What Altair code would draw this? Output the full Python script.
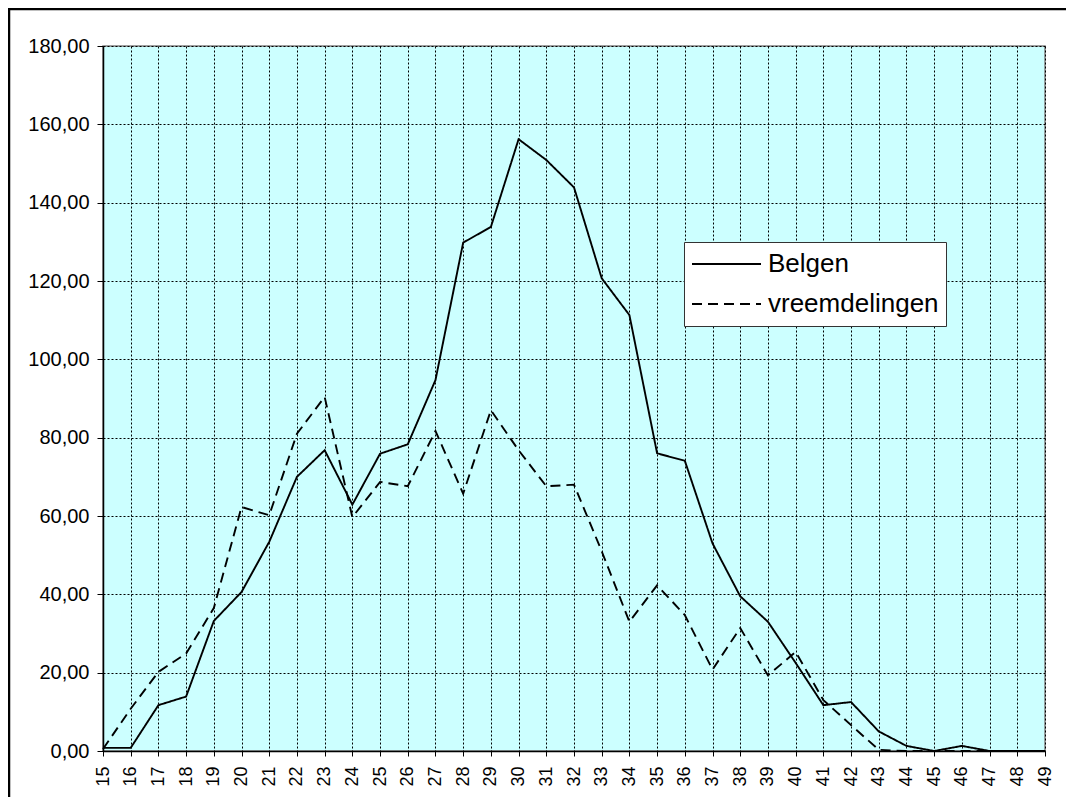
import altair as alt
import pandas as pd

ages = list(range(15, 50))
belgen = [0.8, 0.8, 11.7, 13.9, 33.2, 40.6, 53.4, 70.0, 76.8, 62.9, 75.9, 78.3,
          94.7, 129.8, 133.8, 156.2, 150.9, 143.9, 120.7, 111.3, 76.0, 74.1,
          53.0, 39.5, 33.0, 22.5, 11.7, 12.5, 5.0, 1.3, 0.0, 1.3, 0.0, 0.0, 0.0]
vreemdelingen = [0.5, 10.8, 20.2, 24.9, 36.5, 62.3, 60.2, 81.0, 90.4, 59.7, 68.7,
                 67.6, 81.7, 65.7, 87.0, 76.8, 67.6, 68.0, 51.0, 33.0, 42.3, 34.7,
                 20.8, 31.4, 19.3, 25.3, 13.0, 6.6, 0.3, 0.0, 0.0, 0.0, 0.0, 0.0, 0.0]
series_names = ["Belgen", "vreemdelingen"]
y_ticks = [0, 20, 40, 60, 80, 100, 120, 140, 160, 180]

rows = []
for a, b, v in zip(ages, belgen, vreemdelingen):
    rows.append({"leeftijd": a, "waarde": b, "groep": series_names[0]})
    rows.append({"leeftijd": a, "waarde": v, "groep": series_names[1]})
df = pd.DataFrame(rows)

FONT = "Liberation Sans"

lines = alt.Chart(df).mark_line(color="black", strokeWidth=1.9).encode(
    x=alt.X("leeftijd:Q",
            scale=alt.Scale(domain=[15, 49], nice=False, zero=False),
            axis=alt.Axis(values=ages, format="d", title=None, labelAngle=270,
                          labelFontSize=18, labelFont=FONT, labelColor="black",
                          tickSize=5, tickColor="black", labelPadding=10,
                          labelOverlap=False, labelFlush=False,
                          domainColor="black", domainWidth=1.5,
                          grid=True, gridColor="black", gridDash=[2, 2],
                          gridWidth=1)),
    y=alt.Y("waarde:Q",
            scale=alt.Scale(domain=[0, 180], nice=False),
            axis=alt.Axis(values=y_ticks, title=None,
                          labelExpr="replace(format(datum.value, '.2f'), '.', ',')",
                          labelFontSize=20, labelFont=FONT, labelColor="black",
                          tickSize=6, tickColor="black", labelPadding=8,
                          domainColor="black", domainWidth=1.5,
                          grid=True, gridColor="black", gridDash=[2, 2],
                          gridWidth=1)),
    strokeDash=alt.StrokeDash("groep:N",
        scale=alt.Scale(domain=series_names, range=[[1, 0], [10, 6]]),
        legend=alt.Legend(title=None, orient="none", legendX=581, legendY=196,
                          symbolType="stroke", symbolSize=4761,
                          symbolStrokeWidth=1.8, symbolStrokeColor="black",
                          labelFontSize=26, labelFont=FONT, labelColor="black",
                          labelLimit=400, labelOffset=6,
                          padding=7, clipHeight=30, rowPadding=10,
                          strokeColor="#333333", fillColor="white")),
)

frame = alt.Chart(pd.DataFrame({"k": [0]})).mark_rect(
    filled=False, stroke="black", strokeWidth=2.5, clip=False
).encode(x=alt.value(-94), x2=alt.value(1200), y=alt.value(-37), y2=alt.value(1000))

chart = alt.layer(frame, lines).properties(
    width=942, height=705,
    autosize=alt.AutoSizeParams(type="none"),
    padding={"left": 95, "top": 38, "right": 21, "bottom": 46},
    background="white",
).configure_view(fill="#CCFFFF", stroke="#808080", strokeWidth=1.5)

chart.save("out.html", embed_options={"renderer": "svg", "actions": False})
